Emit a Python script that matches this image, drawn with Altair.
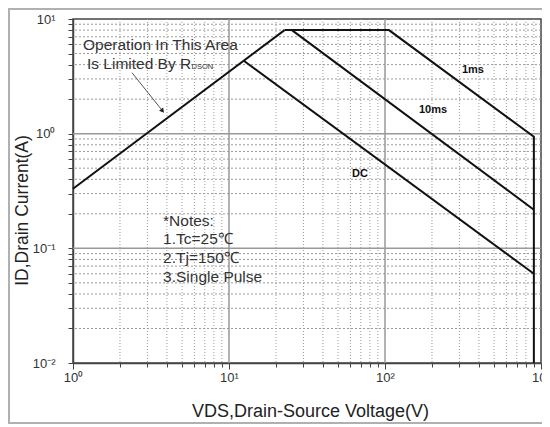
import altair as alt
import pandas as pd

# ---- data ----
rdson_v = [1.0, 22.7]
rdson_i = [0.331, 8.0]
ms1_v = [22.7, 106.0, 900.0, 900.0]
ms1_i = [8.0, 8.0, 0.94, 0.01]
ms10_v = [25.3, 900.0]
ms10_i = [8.0, 0.217]
dc_v = [12.5, 900.0]
dc_i = [4.3, 0.06]

x_major = [1, 10, 100, 1000]
x_minor = [2, 3, 4, 5, 6, 7, 8, 9, 20, 30, 40, 50, 60, 70, 80, 90,
           200, 300, 400, 500, 600, 700, 800, 900]
y_major = [0.01, 0.1, 1, 10]
y_minor = [0.02, 0.03, 0.04, 0.05, 0.06, 0.07, 0.08, 0.09,
           0.2, 0.3, 0.4, 0.5, 0.6, 0.7, 0.8, 0.9,
           2, 3, 4, 5, 6, 7, 8, 9]

curve_labels = ["1ms", "10ms", "DC"]
curve_label_v = [366, 203, 69.2]
curve_label_i = [3.61, 1.62, 0.448]

note_lines = ["*Notes:", "1.Tc=25\u2103", "2.Tj=150\u2103", "3.Single Pulse"]
note_v = [3.78, 3.78, 3.78, 3.78]
note_i = [0.174, 0.1216, 0.083, 0.0567]

area_lines = ["Operation In This Area", "Is Limited By R"]
area_v = [1.159, 1.229]
area_i = [5.97, 4.08]
sub_text = ["DSON"]
sub_v = [5.75]
sub_i = [3.84]

arrow_v = [2.39, 3.75]
arrow_i = [3.40, 1.58]

FONT = "Liberation Sans"

rows = []
for name, vs, cs in [("rdson", rdson_v, rdson_i), ("1ms", ms1_v, ms1_i),
                     ("10ms", ms10_v, ms10_i), ("dc", dc_v, dc_i)]:
    for k, (v, c) in enumerate(zip(vs, cs)):
        rows.append({"series": name, "v": v, "i": c, "k": k})
curves = pd.DataFrame(rows)

xscale = alt.Scale(type="log", domain=[1, 1000], nice=False)
yscale = alt.Scale(type="log", domain=[0.01, 10], nice=False)

DEC = "abs(log(datum.value)/LN10 - round(log(datum.value)/LN10)) < 0.001"
LBL = ("(" + DEC + ") ? '10' + ['\u207b\u00b2','\u207b\u00b9','\u2070','\u00b9','\u00b2','\u00b3']"
       "[round(log(datum.value)/LN10)+2] : ''")

xaxis = alt.Axis(
    values=sorted(x_major + x_minor), labelExpr=LBL, labelOverlap=False, labelFlush=False,
    grid=False, tickSize={"condition": {"test": DEC, "value": 6}, "value": 4},
    tickColor="#444", domainColor="#444", domainWidth=1.5,
    labelFont=FONT, labelFontSize=13, labelColor="#333", labelPadding=2,
    title="VDS,Drain-Source Voltage(V)", titleFont=FONT, titleFontSize=18,
    titleFontWeight="normal", titleColor="#222", titleX=237, titleY=48,
    titleBaseline="middle")
yaxis = alt.Axis(
    values=sorted(y_major + y_minor), labelExpr=LBL, labelOverlap=False, labelFlush=False,
    grid=False, tickSize=5,
    tickColor="#444", domainColor="#444", domainWidth=1.5,
    labelFont=FONT, labelFontSize=13, labelColor="#333", labelPadding=13,
    title="ID,Drain Current(A)", titleFont=FONT, titleFontSize=17.5,
    titleFontWeight="normal", titleColor="#222", titleX=-51, titleY=191,
    titleBaseline="middle")

X = lambda f: alt.X(f, scale=xscale, axis=xaxis)
Y = lambda f: alt.Y(f, scale=yscale, axis=yaxis)

xgrid_minor = alt.Chart(pd.DataFrame({"v": x_minor})).mark_rule(
    color="#9a9a9a", strokeWidth=1, strokeDash=[1, 2]).encode(x=X("v:Q"))
ygrid_minor = alt.Chart(pd.DataFrame({"i": y_minor})).mark_rule(
    color="#9a9a9a", strokeWidth=1, strokeDash=[2, 2]).encode(y=Y("i:Q"))
xgrid_major = alt.Chart(pd.DataFrame({"v": x_major[1:-1]})).mark_rule(
    color="#999", strokeWidth=1.5).encode(x=X("v:Q"))
ygrid_major = alt.Chart(pd.DataFrame({"i": y_major[1:-1]})).mark_rule(
    color="#999", strokeWidth=1.5).encode(y=Y("i:Q"))

lines = alt.Chart(curves).mark_line(color="#111", strokeWidth=2).encode(
    x=X("v:Q"), y=Y("i:Q"), detail="series:N", order="k:Q")

clabels = alt.Chart(pd.DataFrame({"t": curve_labels, "v": curve_label_v, "i": curve_label_i})).mark_text(
    font=FONT, fontSize=11, fontWeight="bold", color="#111").encode(
    x=X("v:Q"), y=Y("i:Q"), text="t:N")

notes = alt.Chart(pd.DataFrame({"t": note_lines, "v": note_v, "i": note_i})).mark_text(
    font=FONT, fontSize=15.5, color="#333", align="left", baseline="middle").encode(
    x=X("v:Q"), y=Y("i:Q"), text="t:N")

area = alt.Chart(pd.DataFrame({"t": area_lines, "v": area_v, "i": area_i})).mark_text(
    font=FONT, fontSize=15.5, color="#333", align="left", baseline="middle").encode(
    x=X("v:Q"), y=Y("i:Q"), text="t:N")

sub = alt.Chart(pd.DataFrame({"t": sub_text, "v": sub_v, "i": sub_i})).mark_text(
    font=FONT, fontSize=7.5, color="#333", align="left", baseline="middle").encode(
    x=X("v:Q"), y=Y("i:Q"), text="t:N")

arrow = alt.Chart(pd.DataFrame({"v": arrow_v, "i": arrow_i})).mark_line(
    color="#555", strokeWidth=1).encode(x=X("v:Q"), y=Y("i:Q"))
head = alt.Chart(pd.DataFrame({"v": arrow_v[1:], "i": arrow_i[1:]})).mark_point(
    shape="triangle-up", filled=True, size=28, angle=141, color="#222", opacity=1).encode(
    x=X("v:Q"), y=Y("i:Q"))

border = alt.Chart(pd.DataFrame({"a": [0]})).mark_rect(
    fillOpacity=0, stroke="#b0b0b0", strokeWidth=2).encode(
    x=alt.value(-64), x2=alt.value(490), y=alt.value(-10), y2=alt.value(404))

chart = alt.layer(
    xgrid_minor, ygrid_minor, xgrid_major, ygrid_major, lines,
    clabels, notes, area, sub, arrow, head, border
).properties(
    width=468, height=344,
    autosize=alt.AutoSizeParams(type="none"),
    padding={"left": 65, "top": 11, "right": 1, "bottom": 62},
    background="white",
).configure_view(stroke="#444", strokeWidth=1.5)

chart.save("out.html", embed_options={"renderer": "svg", "actions": False})
